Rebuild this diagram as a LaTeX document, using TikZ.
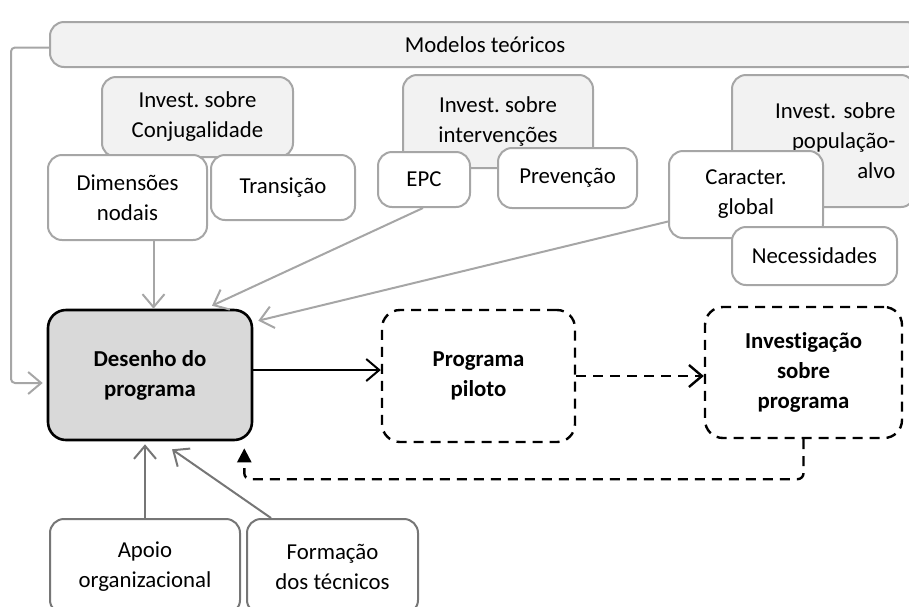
\documentclass[tikz,border=0pt]{standalone}
\usepackage{fontspec}
\setmainfont{Carlito}[Ligatures=NoCommon]
\usetikzlibrary{arrows.meta}
\frenchspacing
\definecolor{lg}{HTML}{A6A6A6}
\definecolor{lfill}{HTML}{F2F2F2}
\definecolor{dg}{HTML}{767676}
\definecolor{mfill}{HTML}{D9D9D9}
\newcommand{\fsz}{\fontsize{11.4}{15}\selectfont}
\tikzset{
  gbox/.style={draw=lg, line width=1pt, rounded corners=7pt, fill=white, inner sep=0pt, align=center, font=\fsz},
  pbox/.style={gbox, fill=lfill},
  dbox/.style={gbox, draw=dg},
  mainbox/.style={draw=black, fill=mfill, line width=1.3pt, rounded corners=9pt, inner sep=0pt, align=center, font=\fsz\bfseries},
  dashbox/.style={draw=black, line width=1.2pt, dash pattern=on 5pt off 3.5pt, rounded corners=9pt, inner sep=0pt, align=center, font=\fsz\bfseries},
  garrow/.style={draw=lg, line width=1pt, -{Straight Barb[length=6.5pt,width=11pt]}},
  darrow/.style={draw=dg, line width=1pt, -{Straight Barb[length=6.5pt,width=11pt]}},
  barrow/.style={draw=black, line width=1pt, -{Straight Barb[length=6.5pt,width=11pt]}},
  dsharrow/.style={draw=black, line width=1.2pt, dash pattern=on 5pt off 3.5pt}
}
\begin{document}
\begin{tikzpicture}[x=0.5pt,y=-0.5pt]
\useasboundingbox (0,0) rectangle (909,606);
% top model box
\node[pbox, minimum width=435pt, minimum height=22.5pt] (modelos) at (485,44.5) {Modelos teóricos};
% investigation boxes
\node[pbox, minimum width=95.5pt, minimum height=40pt] (conj) at (197.5,117) {Invest. sobre\\Conjugalidade};
\node[pbox, minimum width=95pt, minimum height=46.5pt] (interv) at (498,121.5) {Invest. sobre\\intervenções};
\node[pbox, minimum width=91.5pt, minimum height=66pt, text width=72pt, align=right] (pop) at (823.5,141) {Invest. sobre\hspace*{-3pt}\\população-\hspace*{2.5pt}\\alvo\hspace*{2.5pt}};
% children
\node[gbox, minimum width=79.5pt, minimum height=42.5pt] (dim) at (127.5,197.5) {Dimensões\\nodais};
\node[gbox, minimum width=72pt, minimum height=32.5pt] (trans) at (283,187.5) {Transição};
\node[gbox, minimum width=46pt, minimum height=27.5pt] (epc) at (424,179.5) {EPC};
\node[gbox, minimum width=69.5pt, minimum height=30pt] (prev) at (567.5,178) {Prevenção};
\node[gbox, minimum width=77pt, minimum height=43.5pt] (carac) at (746,194.5) {Caracter.\\global};
\node[gbox, minimum width=82.5pt, minimum height=29pt] (neces) at (814.5,256) {Necessidades};
% main row
\node[mainbox, minimum width=102pt, minimum height=65pt] (desenho) at (150,375) {Desenho do\\programa};
\node[dashbox, minimum width=96.5pt, minimum height=66pt] (piloto) at (478.5,376) {Programa\\piloto};
\node[dashbox, minimum width=98.5pt, minimum height=65.5pt] (invprog) at (803.5,372.5) {Investigação\\sobre\\programa};
% bottom boxes
\node[dbox, minimum width=95pt, minimum height=47.5pt] (apoio) at (145,566.5) {Apoio\\organizacional};
\node[dbox, minimum width=85.5pt, minimum height=47.5pt] (formacao) at (332.5,566.5) {Formação\\dos técnicos};
% connectors
\draw[garrow, rounded corners=2pt] ([yshift=-1.5pt]modelos.west) -- ++(-38,0) |- ([yshift=-4pt,xshift=-2pt]desenho.west);
\draw[garrow] ([xshift=13pt]dim.south) -- ([xshift=13pt]dim.south |- desenho.north);
\draw[garrow] ([xshift=-0.5pt]epc.south) -- ([xshift=31pt,yshift=1.5pt]desenho.north);
\draw[garrow] ([yshift=-13.5pt]carac.west) -- ([xshift=2.5pt,yshift=-6pt]desenho.north east);
\draw[darrow] (apoio.north) -- ([yshift=-1.5pt]apoio.north |- desenho.south);
\draw[darrow] ([xshift=12.5pt]formacao.north west) -- ([xshift=11pt,yshift=-4pt]desenho.south);
\draw[barrow] ([yshift=2.5pt]desenho.east) -- ([yshift=2.5pt]desenho.east -| piloto.west);
\draw[dsharrow, -{Straight Barb[length=6.5pt,width=11pt]}] (piloto.east) -- (piloto.east -| invprog.west);
\draw[dsharrow, rounded corners=3pt, -{Triangle[length=7pt,width=7pt]}] (invprog.south) -- ++(0,40) -| ([xshift=-4.5pt,yshift=-3.5pt]desenho.south east);
\end{tikzpicture}
\end{document}
